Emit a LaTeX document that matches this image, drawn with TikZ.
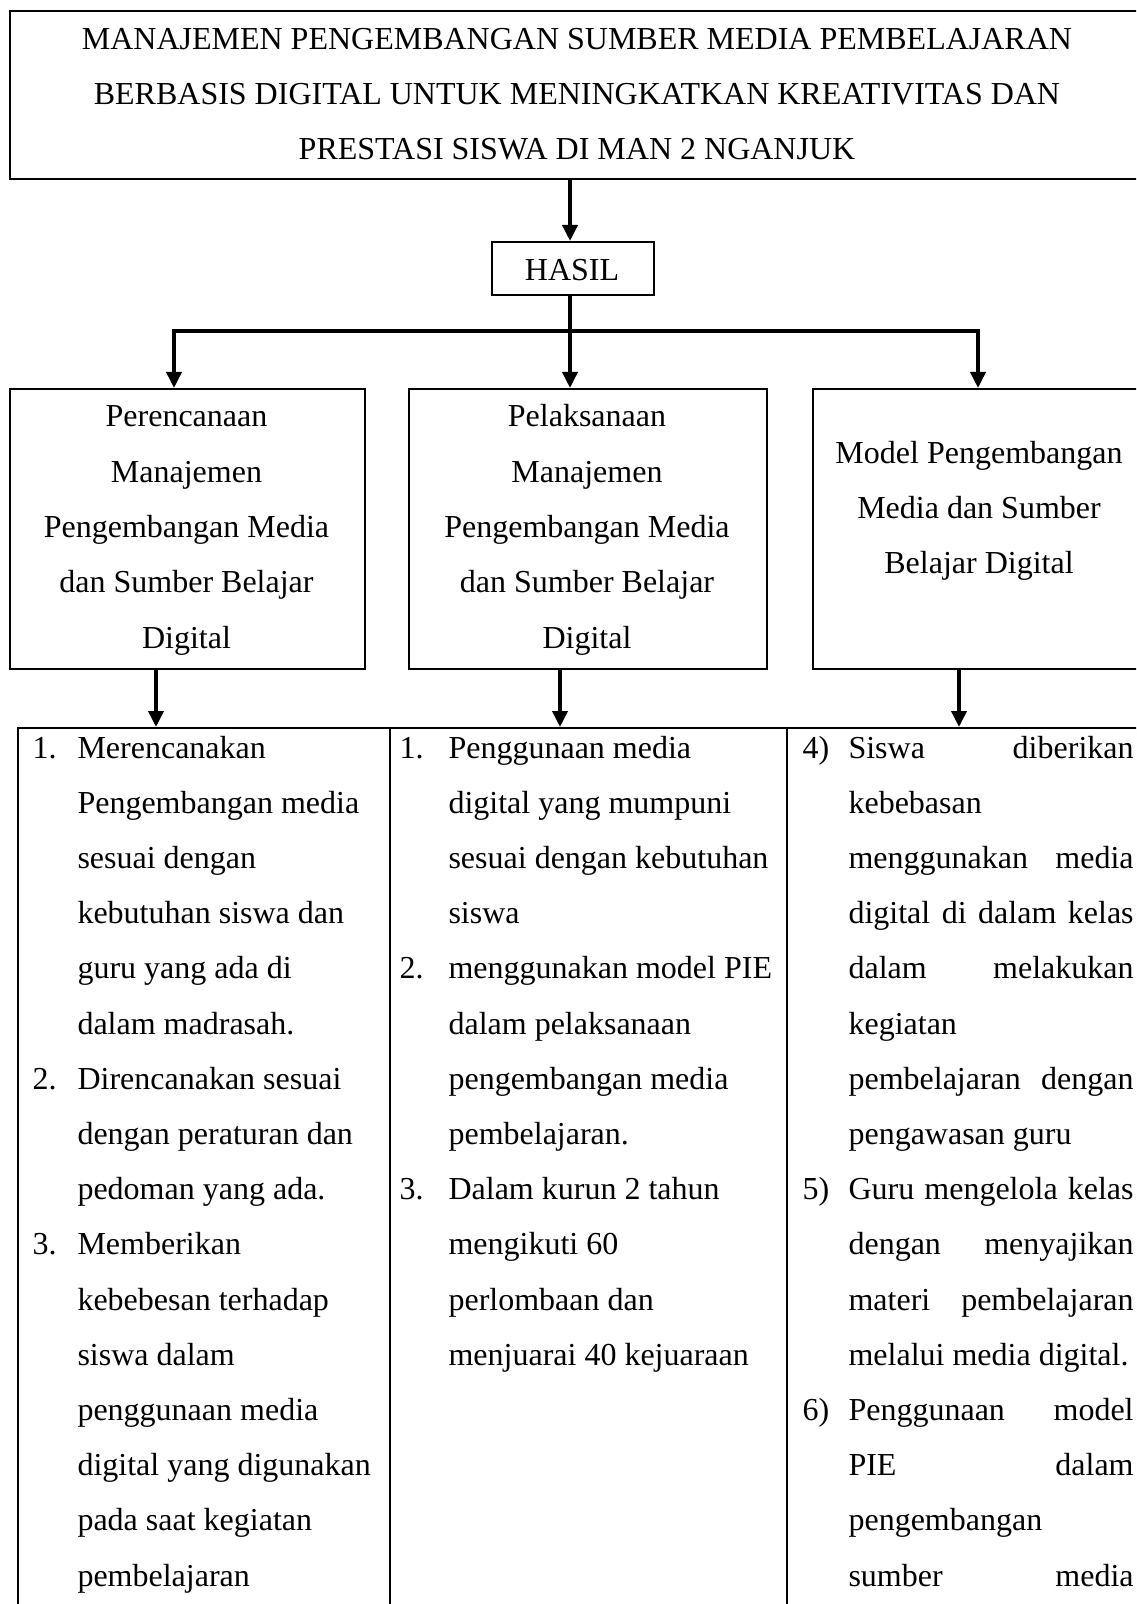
\documentclass[tikz,border=0pt]{standalone}
\usepackage{fontspec}
\setmainfont{Liberation Serif}
\usetikzlibrary{arrows.meta}

% baris rata kiri-kanan pada kolom ketiga
\newcommand{\barisrata}[1]{\makebox[106.9pt][s]{#1}}

\tikzset{
  kotak/.style={draw, line width=0.6pt, inner sep=0pt, anchor=north west},
  teks/.style={inner sep=0pt, font=\fontsize{12pt}{14pt}\selectfont},
  panah/.style={line width=1.4pt, -{Triangle[length=6pt,width=5.6pt]}},
  tebal/.style={line width=1.3pt, line cap=rect}
}

\begin{document}
\begin{tikzpicture}[x=0.375pt, y=-0.375pt]
      \clip (0,0) rectangle (1136,1604);

      % Judul
      \node[kotak, minimum width=426pt, minimum height=63pt] (judul) at (9,10) {};
      \foreach \baris [count=\i from 0] in {MANAJEMEN PENGEMBANGAN SUMBER MEDIA PEMBELAJARAN,
        BERBASIS DIGITAL UNTUK MENINGKATKAN KREATIVITAS DAN,
        PRESTASI SISWA DI MAN 2 NGANJUK}
        \node[teks, anchor=base] (jl\i) at (577, 50+55*\i) {\baris};

      \node[kotak, minimum width=60.75pt, minimum height=19.875pt] (hasil) at (491,241) {};
      \node[teks, anchor=base] (hasilteks) at (572,281) {HASIL};

      % Tiga kotak tengah
      \node[kotak, minimum width=133.125pt, minimum height=105pt] (perencanaan) at (9,388) {};
      \node[kotak, minimum width=134.25pt, minimum height=105pt] (pelaksanaan) at (408,388) {};
      \node[kotak, minimum width=125.25pt, minimum height=105pt] (model) at (812,388) {};

      \foreach \baris [count=\i from 0] in {Perencanaan, Manajemen, Pengembangan Media,
        dan Sumber Belajar, Digital}
        \node[teks, anchor=base] (pr\i) at (186.5, 427+55.25*\i) {\baris};
      \foreach \baris [count=\i from 0] in {Pelaksanaan, Manajemen, Pengembangan Media,
        dan Sumber Belajar, Digital}
        \node[teks, anchor=base] (pl\i) at (587, 427+55.25*\i) {\baris};
      \foreach \baris [count=\i from 0] in {Model Pengembangan, Media dan Sumber, Belajar Digital}
        \node[teks, anchor=base] (md\i) at (979, 463+55*\i) {\baris};

      % Panah
      \coordinate (cabang) at (570,331);
      \coordinate (kiri) at (174,331);
      \coordinate (kanan) at (978,331);
      \draw[panah] (judul.south -| cabang) -- (hasil.north -| cabang);
      \draw[tebal] (kiri) -- (kanan);
      \draw[panah] (hasil.south -| cabang) -- (pelaksanaan.north -| cabang);
      \draw[panah] (kiri) -- (perencanaan.north -| kiri);
      \draw[panah] (kanan) -- (model.north -| kanan);

      % Tabel hasil
      \node[kotak, line width=0.75pt, minimum width=139.5pt, minimum height=336.75pt] (sel1) at (17,727) {};
      \node[kotak, line width=0.75pt, minimum width=148.875pt, minimum height=336.75pt] (sel2) at (389,727) {};
      \node[kotak, line width=0.75pt, minimum width=136.5pt, minimum height=336.75pt] (sel3) at (786,727) {};

      \coordinate (b1) at (156,0);
      \coordinate (b2) at (560,0);
      \coordinate (b3) at (959,0);
      \draw[panah] (perencanaan.south -| b1) -- (sel1.north -| b1);
      \draw[panah] (pelaksanaan.south -| b2) -- (sel2.north -| b2);
      \draw[panah] (model.south -| b3) -- (sel3.north -| b3);

      % Isi kolom
      \foreach \no/\isi [count=\i from 0] in {1./Merencanakan, /Pengembangan media, /sesuai dengan,
        /kebutuhan siswa dan, /guru yang ada di, /dalam madrasah., 2./Direncanakan sesuai,
        /dengan peraturan dan, /pedoman yang ada., 3./Memberikan, /kebebesan terhadap,
        /siswa dalam, /penggunaan media, /digital yang digunakan, /pada saat kegiatan,
        /pembelajaran}
      {
        \node[teks, anchor=base west] (ka\i) at (77, 758+55.2*\i) {\isi};
        \ifx\no\empty\else \node[teks, anchor=base west] (na\i) at (32, 758+55.2*\i) {\no}; \fi
      }
      \foreach \no/\isi [count=\i from 0] in {1./Penggunaan media, /digital yang mumpuni,
        /sesuai dengan kebutuhan, /siswa, 2./menggunakan model PIE, /dalam pelaksanaan,
        /pengembangan media, /pembelajaran., 3./Dalam kurun 2 tahun, /mengikuti 60,
        /perlombaan dan, /menjuarai 40 kejuaraan}
      {
        \node[teks, anchor=base west] (kb\i) at (448, 758+55.2*\i) {\isi};
        \ifx\no\empty\else \node[teks, anchor=base west] (nb\i) at (399, 758+55.2*\i) {\no}; \fi
      }
      \foreach \no/\isi [count=\i from 0] in {4)/\barisrata{Siswa diberikan}, /kebebasan,
        /\barisrata{menggunakan media}, /\barisrata{digital di dalam kelas},
        /\barisrata{dalam melakukan}, /kegiatan, /\barisrata{pembelajaran dengan},
        /pengawasan guru, 5)/\barisrata{Guru mengelola kelas}, /\barisrata{dengan menyajikan},
        /\barisrata{materi pembelajaran}, /melalui media digital.,
        6)/\barisrata{Penggunaan model}, /\barisrata{PIE dalam}, /pengembangan,
        /\barisrata{sumber media}}
      {
        \node[teks, anchor=base west] (kc\i) at (848, 758+55.2*\i) {\isi};
        \ifx\no\empty\else \node[teks, anchor=base west] (nc\i) at (802, 758+55.2*\i) {\no}; \fi
      }
\end{tikzpicture}
\end{document}
